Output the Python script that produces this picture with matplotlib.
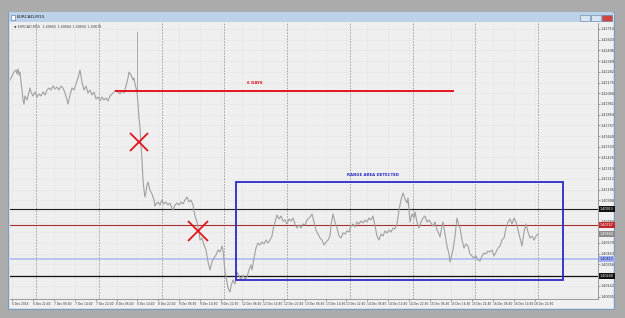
import numpy as np
import matplotlib.pyplot as plt
from matplotlib.patches import Rectangle

# ---- data ----
# time axis: chart time index (one 8h label slot = 20.9 units), price in pips (1e-4)
t_label_step = 20.9
time_labels = ["6 Dec 2016", "6 Dec 22:40", "7 Dec 06:40", "7 Dec 14:40", "7 Dec 22:40",
               "8 Dec 06:40", "8 Dec 14:40", "8 Dec 22:40", "9 Dec 06:40", "9 Dec 14:40",
               "9 Dec 22:40", "12 Dec 06:40", "12 Dec 14:40", "12 Dec 22:40", "13 Dec 06:40",
               "13 Dec 14:40", "13 Dec 22:40", "14 Dec 06:40", "14 Dec 14:40", "14 Dec 22:40",
               "15 Dec 06:40", "15 Dec 14:40", "15 Dec 22:40", "16 Dec 06:40", "16 Dec 14:40",
               "16 Dec 22:40"]
# day separators (midnight) in label-slot units
day_separators = [1.167, 4.167, 7.167, 10.167, 13.167, 16.167, 19.167, 22.167, 25.167]

price_t = [-2, 0, 2, 4, 5, 6, 7, 8, 9, 10, 11, 12, 13, 15, 17, 18, 19, 21, 23, 25, 27, 29, 31,
           33, 35, 37, 39, 41, 43, 45, 47, 49, 51, 53, 55, 56, 58, 60, 62, 64, 66, 68, 69, 70,
           72, 74, 76, 78, 80, 82, 84, 86, 88, 90, 92, 94, 96, 98, 100, 102, 104, 106, 108, 110,
           112, 114, 116, 117, 119, 121, 122, 123, 124, 125, 126, 127, 128, 129, 130, 131, 132,
           133, 134, 135, 136, 138, 140, 142, 143, 144, 146, 148, 150, 152, 154, 156, 158, 160,
           161, 163, 165, 167, 169, 171, 173, 175, 177, 179, 181, 183, 185, 187, 188, 190, 192,
           194, 196, 198, 200, 202, 204, 206, 208, 210, 211, 213, 215, 216, 218, 219, 221, 223,
           225, 227, 229, 231, 233, 235, 237, 239, 240, 242, 244, 246, 248, 250, 252, 254, 256,
           258, 260, 261, 263, 265, 267, 269, 271, 273, 275, 277, 279, 281, 283, 285, 287, 289,
           291, 293, 295, 297, 299, 300, 302, 304, 306, 308, 310, 312, 314, 316, 318, 319, 321,
           323, 325, 327, 329, 331, 333, 335, 337, 339, 341, 343, 345, 347, 349, 351, 353, 355,
           357, 359, 361, 363, 365, 367, 369, 371, 373, 375, 377, 379, 381, 383, 385, 387, 389,
           390, 391, 393, 395, 396, 398, 400, 402, 403, 405, 407, 409, 411, 413, 415, 417, 419,
           421, 423, 425, 427, 428, 430, 431, 433, 435, 437, 438, 439, 441, 443, 445, 446, 448,
           450, 452, 454, 456, 458, 460, 462, 464, 466, 468, 470, 472, 474, 476, 478, 480, 482,
           484, 486, 488, 490, 492, 494, 496, 498, 500, 502, 504, 506, 508, 510, 512, 514, 516,
           518, 520, 522, 524, 526]
price_pips = [14220, 14224, 14228, 14230, 14226, 14231, 14225, 14228, 14218, 14210, 14200, 14196,
              14204, 14200, 14208, 14212, 14208, 14204, 14208, 14203, 14206, 14204, 14208, 14205,
              14210, 14212, 14210, 14214, 14211, 14213, 14210, 14214, 14212, 14207, 14200, 14196,
              14205, 14212, 14210, 14216, 14222, 14230, 14224, 14218, 14210, 14214, 14207, 14210,
              14205, 14208, 14201, 14203, 14199, 14203, 14200, 14202, 14199, 14204, 14206, 14208,
              14210, 14208, 14206, 14209, 14207, 14214, 14222, 14228, 14225, 14220, 14222, 14216,
              14212, 14208, 14196, 14182, 14173, 14155, 14140, 14120, 14110, 14103, 14108, 14115,
              14118, 14110, 14106, 14100, 14094, 14096, 14098, 14095, 14100, 14096, 14098, 14095,
              14097, 14092, 14090, 14095, 14097, 14095, 14098, 14096, 14100, 14103, 14098, 14100,
              14095, 14084, 14078, 14068, 14060, 14062, 14055, 14050, 14038, 14030, 14038, 14042,
              14045, 14050, 14048, 14054, 14050, 14028, 14018, 14012, 14008, 14014, 14020, 14016,
              14028, 14024, 14020, 14025, 14021, 14023, 14030, 14035, 14030, 14042, 14052, 14057,
              14055, 14058, 14056, 14060, 14057, 14060, 14064, 14070, 14078, 14085, 14081, 14084,
              14079, 14080, 14076, 14081, 14079, 14082, 14076, 14072, 14075, 14072, 14076, 14075,
              14080, 14082, 14084, 14086, 14078, 14070, 14066, 14062, 14060, 14055, 14058, 14060,
              14064, 14075, 14086, 14078, 14072, 14064, 14062, 14067, 14066, 14069, 14068, 14074,
              14076, 14073, 14078, 14076, 14079, 14077, 14080, 14078, 14082, 14080, 14084, 14074,
              14064, 14060, 14066, 14064, 14069, 14067, 14070, 14068, 14072, 14071, 14076, 14090,
              14100, 14104, 14107, 14101, 14097, 14102, 14078, 14086, 14082, 14088, 14078, 14072,
              14078, 14082, 14084, 14078, 14080, 14077, 14074, 14078, 14070, 14066, 14063, 14074,
              14078, 14066, 14054, 14046, 14038, 14042, 14050, 14064, 14082, 14078, 14072, 14060,
              14052, 14056, 14054, 14046, 14044, 14042, 14044, 14040, 14039, 14044, 14047, 14046,
              14049, 14048, 14050, 14044, 14048, 14052, 14054, 14060, 14062, 14072, 14078, 14081,
              14076, 14082, 14078, 14070, 14062, 14054, 14068, 14076, 14068, 14062, 14064, 14060,
              14064, 14066]
ecb_spike_t = 125
ecb_spike_high = 14268

six_days_t = [103, 442]
six_days_level = 14209.3
range_box_t = [223.7, 551]
range_box_pips = [14020.5, 14118.5]
cross_t = [127, 186]
cross_pips = [14158, 14069]

level_black_hi = 14091.3
level_red = 14074.7
level_blue = 14041.3
level_black_lo = 14024
level_bid = 14066

price_tick_top = 14271
price_tick_step = 10.7
n_price_ticks = 26

# ---- figure ----
W, H = 625, 318
fig = plt.figure(figsize=(W / 100, H / 100), dpi=100)
fig.patch.set_facecolor('#ababab')


def fx(px):
    return px / W


def fy(py):
    return 1 - py / H


def frame_rect(x, y_top, w, h, **kw):
    fig.add_artist(Rectangle((fx(x), fy(y_top + h)), fx(w), h / H,
                             transform=fig.transFigure, zorder=-10, **kw))


# window frame + title bar
frame_rect(8, 12, 606, 297, facecolor='#d6e3f1', edgecolor='#7d9cbc', lw=0.8)
frame_rect(9, 12.5, 604, 9.5, facecolor='#bcd2ea', edgecolor='none')
frame_rect(10, 22, 603, 286, facecolor='#f0f0f0', edgecolor='none')
frame_rect(11, 15, 4, 5, facecolor='#ffffff', edgecolor='#4a6a90', lw=0.4)
fig.text(fx(17), fy(17.3), "EURCAD,M15", fontsize=3.2, color='#1a1a1a', va='center')
for bx, col in [(580, '#d8e4f2'), (591, '#d8e4f2'), (602, '#d0453c')]:
    frame_rect(bx, 14.5, 10, 6, facecolor=col, edgecolor='#5e7ea2', lw=0.4)

ax = fig.add_axes([fx(10), fy(299), fx(588), 276 / H])
ax.set_facecolor('#efefef')

x0 = -2
x1 = 586
ax.set_xlim(x0, x1)
ymin = 14300 - 299
ymax = 14300 - 23
ax.set_ylim(ymin, ymax)

# fine grid
tick_t = [k * t_label_step for k in range(len(time_labels))]
price_ticks = [price_tick_top - price_tick_step * n for n in range(n_price_ticks)]
for t in tick_t:
    ax.axvline(t, color='#d6d6d6', lw=0.4, ls=(0, (1, 1.5)), zorder=0)
for p in price_ticks:
    ax.axhline(p, color='#d6d6d6', lw=0.4, ls=(0, (1, 1.5)), zorder=0)
for d in day_separators:
    ax.axvline(d * t_label_step, color='#9a9a9a', lw=0.6, ls=(0, (2, 1.5)), zorder=1)

# horizontal levels
ax.axhline(level_black_hi, color='#1e1e1e', lw=0.8, zorder=2)
ax.axhline(level_red, color='#a83030', lw=0.8, zorder=2)
ax.axhline(level_blue, color='#a9b6f2', lw=1.1, zorder=2)
ax.axhline(level_black_lo, color='#111111', lw=0.9, zorder=2)

# price
ax.plot(price_t, price_pips, color='#a0a0a0', lw=0.8, zorder=3)
ax.plot([ecb_spike_t, ecb_spike_t], [price_pips[price_t.index(ecb_spike_t)], ecb_spike_high],
        color='#a0a0a0', lw=0.6, zorder=3)

# annotations
ax.plot(six_days_t, [six_days_level] * 2, color='#e3151c', lw=1.4, zorder=4,
        solid_capstyle='butt')
ax.text(sum(six_days_t) / 2 - 30, six_days_level + 8, "6 DAYS", color='#d4141c',
        fontsize=2.8, fontweight='bold', ha='center', va='center')
ax.add_patch(Rectangle((range_box_t[0], range_box_pips[0]), range_box_t[1] - range_box_t[0],
                       range_box_pips[1] - range_box_pips[0], fill=False,
                       edgecolor='#2a2ac8', lw=1.3, zorder=4))
ax.text(361, range_box_pips[1] + 6, "RANGE AREA DETECTED", color='#2a2ac8', fontsize=2.8,
        fontweight='bold', ha='center', va='center')
for t, p, ms in zip(cross_t, cross_pips, [13, 15]):
    ax.plot([t], [p], marker='x', ms=ms, mew=1.3, color='#e3151c', zorder=5)

ax.text(2, 14300 - 26.5, "\u25bc EURCAD,M15  1.40665 1.40684 1.40650 1.40670", fontsize=2.4,
        color='#444444', va='center')

# axes styling
for s in ['top', 'left']:
    ax.spines[s].set_visible(False)
ax.spines['right'].set_color('#8a8a8a')
ax.spines['bottom'].set_color('#8a8a8a')
ax.spines['right'].set_linewidth(0.6)
ax.spines['bottom'].set_linewidth(0.6)
ax.yaxis.tick_right()
ax.set_yticks(price_ticks)
ax.set_yticklabels([f"{p / 10000:.5f}" for p in price_ticks])
ax.set_xticks(tick_t)
ax.set_xticklabels(time_labels, ha='left')
ax.tick_params(axis='both', labelsize=2.4, colors='#555555', length=1.2, width=0.4, pad=1)
ax.tick_params(axis='x', labelsize=2.05, labelcolor='#333333')
ax.tick_params(axis='y', labelcolor='#333333')

# price tags on the scale
for lvl, bg, fg in [(level_black_hi, '#111111', 'white'), (level_red, '#c0282c', 'white'),
                    (level_bid, '#8c8c8c', 'white'), (level_blue, '#9fb2f2', '#1a1a6a'),
                    (level_black_lo, '#111111', 'white')]:
    ax.text(1.003, (lvl - ymin) / (ymax - ymin), f"{lvl / 10000:.5f}", transform=ax.transAxes,
            fontsize=2.4, color=fg, va='center', ha='left', clip_on=False,
            bbox=dict(boxstyle='square,pad=0.35', facecolor=bg, edgecolor='none'))

fig.savefig("out.png", dpi=100, facecolor=fig.get_facecolor())
